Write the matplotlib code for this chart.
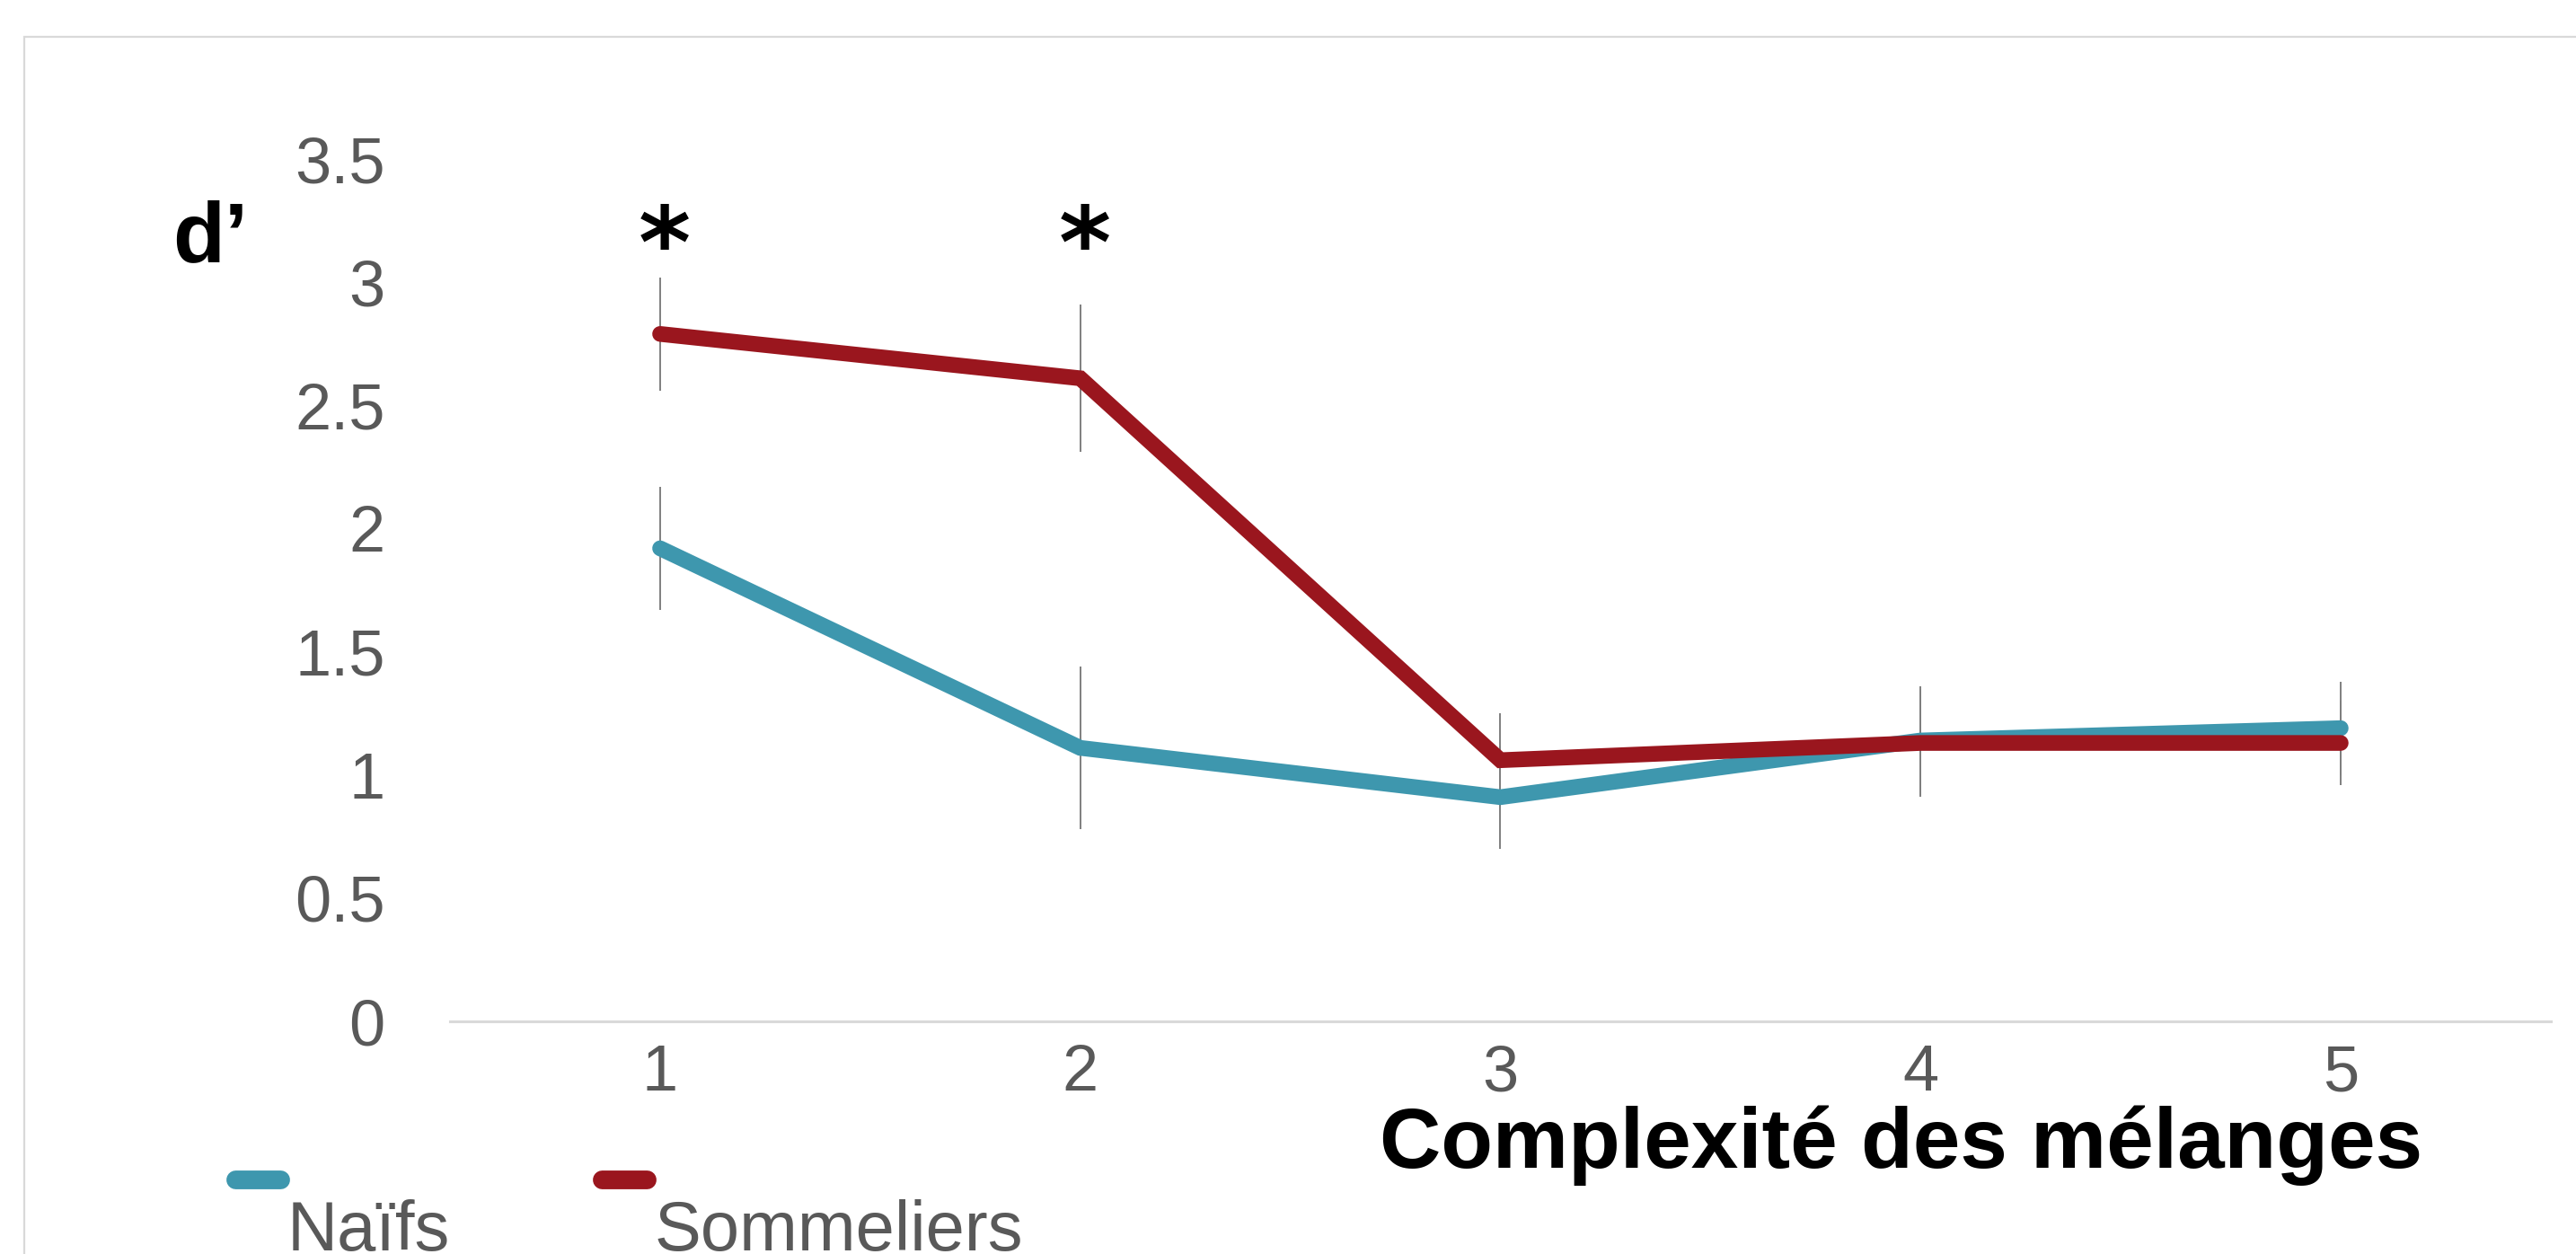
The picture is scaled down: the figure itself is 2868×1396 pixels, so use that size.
import matplotlib.pyplot as plt
import matplotlib.patches as patches
from matplotlib.lines import Line2D
import numpy as np

# Data
complexity = ['1', '2', '3', '4', '5']
naifs = [1.92, 1.11, 0.91, 1.14, 1.19]
naifs_err = [0.25, 0.33, 0.21, 0.22, 0.19]
sommeliers = [2.79, 2.61, 1.06, 1.13, 1.13]
sommeliers_err = [0.23, 0.30, 0.19, 0.22, 0.17]
significance = ['*', '*', '', '', '']
y_ticks = [0, 0.5, 1, 1.5, 2, 2.5, 3, 3.5]

series_names = ['Naïfs', 'Sommeliers']
series_colors = ['#3E97AE', '#9A161E']

gray_font = ['Liberation Sans Narrow', 'Liberation Sans']
bold_font = ['Liberation Sans', 'DejaVu Sans']

fig = plt.figure(figsize=(14.34, 6.98), dpi=200)
ax = fig.add_axes([0.1747, 0.1855, 0.8155, 0.6877])

x = np.arange(1, len(complexity) + 1)

# Error bars first so the thick lines sit on top
for vals, errs in [(naifs, naifs_err), (sommeliers, sommeliers_err)]:
    ax.errorbar(x, vals, yerr=errs, fmt='none', ecolor='#7F7F7F',
                elinewidth=0.7, capsize=0, zorder=2)

for vals, name, color in zip([naifs, sommeliers], series_names, series_colors):
    ax.plot(x, vals, color=color, linewidth=6.3, solid_capstyle='round',
            solid_joinstyle='miter', label=name, zorder=3)

# Significance stars
for xi, s in zip(x, significance):
    if s:
        ax.text(xi + 0.01, 3.13, s, ha='center', va='center', fontsize=40,
                fontweight='bold', family=['DejaVu Sans'], color='black')

ax.set_xlim(0.5, len(complexity) + 0.5)
ax.set_ylim(0, 3.5)
ax.set_xticks(x)
ax.set_xticklabels(complexity)
ax.set_yticks(y_ticks)
ax.set_yticklabels([f'{v:g}' for v in y_ticks])
ax.tick_params(axis='both', length=0, labelcolor='#595959', labelsize=26)
ax.tick_params(axis='y', pad=26)
ax.tick_params(axis='x', pad=9)
for lab in ax.get_xticklabels() + ax.get_yticklabels():
    lab.set_family(gray_font)

for side in ['top', 'right', 'left']:
    ax.spines[side].set_visible(False)
ax.spines['bottom'].set_color('#D9D9D9')
ax.spines['bottom'].set_linewidth(1.1)
ax.patch.set_alpha(0)

# Axis titles
fig.text(234 / 2868, 1 - 267 / 1396, 'd\u2019', ha='center', va='center',
         fontsize=34, fontweight='bold', family=bold_font, color='black')
fig.text(2117 / 2868, 1 - 1275 / 1396, 'Complexité des mélanges', ha='center',
         va='center', fontsize=34, fontweight='bold', family=bold_font,
         color='black')

# Legend: short thick line above each label
legend_x = [262, 670]
for lx, name, color in zip(legend_x, series_names, series_colors):
    fig.add_artist(Line2D([lx / 2868, (lx + 50) / 2868],
                          [1 - 1313 / 1396, 1 - 1313 / 1396],
                          color=color, linewidth=7.5, solid_capstyle='round',
                          transform=fig.transFigure))
    fig.text((lx + 58) / 2868, 1 - 1392 / 1396, name, ha='left',
             va='baseline', fontsize=28, color='#595959', family=gray_font)

# Chart frame (cropped)
fig.add_artist(patches.Rectangle((27 / 2868, -0.1), 1.2, 0.1 + 1 - 41 / 1396,
                                 transform=fig.transFigure, fill=False,
                                 edgecolor='#D9D9D9', linewidth=0.8))

fig.savefig('out.png', dpi=200)
